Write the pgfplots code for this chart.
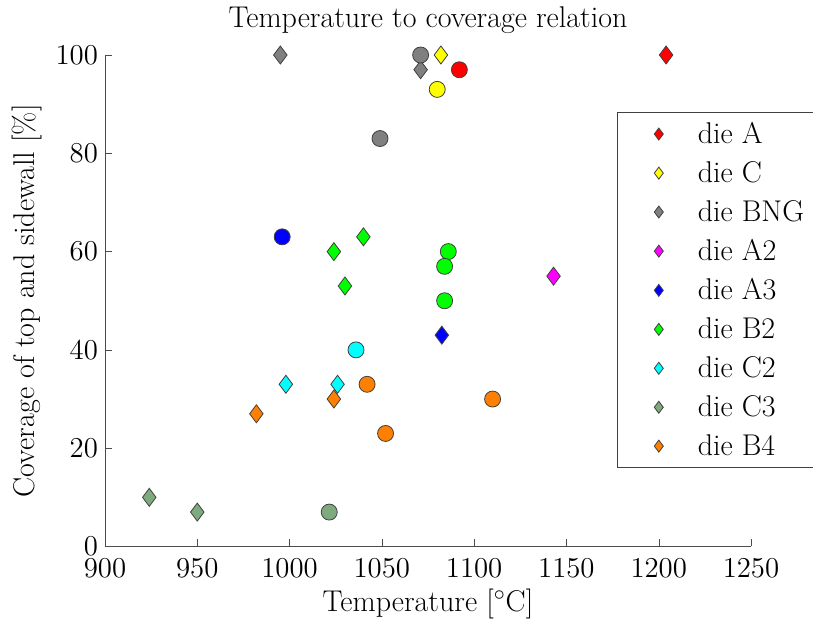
\documentclass[border=0pt]{standalone}
\usepackage{pgfplots}
\pgfplotsset{compat=1.18}
\definecolor{cRed}{rgb}{1,0,0}
\definecolor{cYel}{rgb}{1,1,0}
\definecolor{cGry}{rgb}{0.5,0.5,0.5}
\definecolor{cMag}{rgb}{1,0,1}
\definecolor{cBlu}{rgb}{0,0,1}
\definecolor{cGrn}{rgb}{0,1,0}
\definecolor{cCya}{rgb}{0,1,1}
\definecolor{cC3}{rgb}{0.49,0.67,0.49}
\definecolor{cOr}{rgb}{1,0.5,0}
\begin{document}
\begin{tikzpicture}
\pgfplotsset{
  dia/.style={only marks, mark=diamond*, mark size=4.5pt,
    mark options={fill=#1, draw=black!75, line width=0.4pt}},
  cir/.style={only marks, mark=*, mark size=4pt, forget plot,
    mark options={fill=#1, draw=black!75, line width=0.4pt}},
}
\begin{axis}[
  scale only axis,
  width=323pt,
  height=245.75pt,
  xmin=900, xmax=1250,
  ymin=0, ymax=100,
  xtick={900,950,...,1250},
  ytick={0,20,...,100},
  axis x line=bottom,
  axis y line=left,
  axis line style={-, black!70},
  tick style={black!70},
  tick align=inside,
  major tick length=3.5pt,
  xticklabel style={/pgf/number format/1000 sep={}, yshift=-2.5pt},
  font=\fontsize{15}{18}\selectfont,
  title={Temperature to coverage relation},
  title style={yshift=1pt},
  xlabel={Temperature [$^{\circ}$C]},
  xlabel style={yshift=1pt},
  ylabel={Coverage of top and sidewall [\%]},
  legend style={at={(0.7932,0.883)}, anchor=north west, draw=black!75,
    font=\fontsize{15}{18}\selectfont, row sep=3.5pt, inner xsep=3pt,
    inner ysep=2.5pt},
  legend cell align=left,
  legend image code/.code={
    \path[draw=none, fill=none] (0pt,-3pt) rectangle (35pt,3pt);
    \draw[#1, mark size=3pt] plot coordinates {(17.5pt,0pt)};
  },
]
% diamonds (in legend)
\addplot[dia=cRed] coordinates {(1204,100)};
\addlegendentry{die A}
\addplot[dia=cYel] coordinates {(1082,100)};
\addlegendentry{die C}
\addplot[dia=cGry] coordinates {(995,100) (1071,97)};
\addlegendentry{die BNG}
\addplot[dia=cMag] coordinates {(1143,55)};
\addlegendentry{die A2}
\addplot[dia=cBlu] coordinates {(1082.5,43)};
\addlegendentry{die A3}
\addplot[dia=cGrn] coordinates {(1024,60) (1040,63) (1030,53)};
\addlegendentry{die B2}
\addplot[dia=cCya] coordinates {(998,33) (1026,33)};
\addlegendentry{die C2}
\addplot[dia=cC3] coordinates {(924,10) (950,7)};
\addlegendentry{die C3}
\addplot[dia=cOr] coordinates {(982,27) (1024,30)};
\addlegendentry{die B4}
% circles
\addplot[cir=cRed] coordinates {(1092,97)};
\addplot[cir=cYel] coordinates {(1080,93)};
\addplot[cir=cGry] coordinates {(1071,100) (1049,83)};
\addplot[cir=cBlu] coordinates {(996,63)};
\addplot[cir=cGrn] coordinates {(1086,60) (1084,57) (1084,50)};
\addplot[cir=cCya] coordinates {(1036,40)};
\addplot[cir=cC3] coordinates {(1021.5,7)};
\addplot[cir=cOr] coordinates {(1042,33) (1052,23) (1110,30)};
\end{axis}
\pgfresetboundingbox
\path[use as bounding box] (-52.5pt,-36.25pt) rectangle (354pt,273.25pt);
\end{tikzpicture}
\end{document}
